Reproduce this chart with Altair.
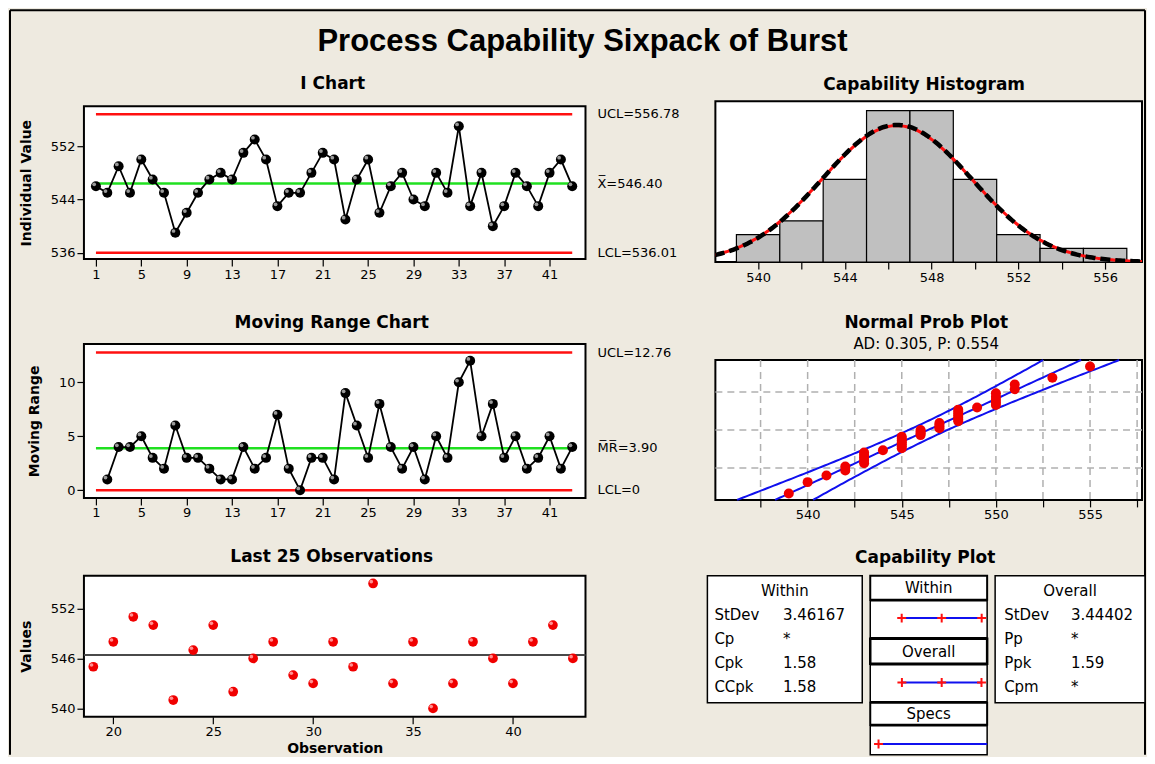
import math
from statistics import NormalDist
import altair as alt
import pandas as pd

# ---------------- data ----------------
observation = list(range(1, 44))
burst = [546, 545, 549, 545, 550, 547, 545, 539, 542, 545, 547, 548, 547, 551, 553,
         550, 543, 545, 545, 548, 551, 550, 541, 547, 550, 542, 546, 548, 544, 543,
         548, 545, 555, 543, 548, 540, 543, 548, 546, 543, 548, 550, 546]
mr_observation = list(range(2, 44))
moving_range = [1, 4, 4, 5, 3, 2, 6, 3, 3, 2, 1, 1, 4, 2, 3, 7, 2, 0, 3, 3, 1, 9, 6,
                3, 8, 4, 2, 4, 1, 5, 3, 10, 12, 5, 8, 3, 5, 2, 3, 5, 2, 4]
i_limits = [556.78, 546.40, 536.01]
i_labels = ["UCL=556.78", "X\u0305=546.40", "LCL=536.01"]
mr_limits = [12.76, 3.90, 0.0]
mr_labels = ["UCL=12.76", "M\u0305R\u0305=3.90", "LCL=0"]
hist_edges = [539, 541, 543, 545, 547, 549, 551, 553, 555, 557]
hist_counts = [2, 3, 6, 11, 11, 6, 2, 1, 1]
process_mean = 546.40
within_sd = 3.46167
overall_sd = 3.44402
lsl = 530
n_obs = 43
within_labels = ["StDev", "Cp", "Cpk", "CCpk"]
within_values = ["3.46167", "*", "1.58", "1.58"]
overall_labels = ["StDev", "Pp", "Ppk", "Cpm"]
overall_values = ["3.44402", "*", "1.59", "*"]
npp_grid_x = [537.5, 540, 542.5, 545, 547.5, 550, 552.5, 555, 557.5]
npp_grid_prob = [0.10, 0.50, 0.90]
ad_text = "AD: 0.305, P: 0.554"
main_title = "Process Capability Sixpack of Burst"

# ---------------- style ----------------
BG = "#EEEAE0"
FONT = "DejaVu Sans"
WL, WR = 502, 427
RED = "#ff1010"
GREEN = "#20e020"
BLUE = "#1010ee"
GRID = "#b0b0b0"
CROSS = "M-1,0L1,0M0,-1L0,1"
HIDDEN = alt.ViewBackground(fill="transparent", stroke="transparent")


def one():
    return alt.Data(values=[{}])


def txt(text, x, y, size=17, weight="bold", align="center", font=FONT, baseline="alphabetic"):
    return alt.Chart(one()).mark_text(
        text=text, font=font, fontSize=size, fontWeight=weight, align=align,
        baseline=baseline, color="black").encode(x=alt.value(x), y=alt.value(y))


def box(x0, x1, y0, y1, sw=1.5):
    return alt.Chart(one()).mark_rect(fill="white", stroke="black", strokeWidth=sw).encode(
        x=alt.value(x0), x2=alt.value(x1), y=alt.value(y0), y2=alt.value(y1))


def spacer(width, height):
    return alt.Chart(one()).mark_point(opacity=0).encode(
        x=alt.value(0), y=alt.value(0)).properties(width=width, height=height, view=HIDDEN)


def spheres(chart, x, y, color, shine, size):
    base = chart.mark_circle(size=size, color=color, opacity=1).encode(x=x, y=y)
    hl = chart.mark_circle(size=size * 0.14, color=shine, opacity=1,
                           xOffset=-1.8, yOffset=-1.8).encode(x=x, y=y)
    return base + hl


def limit_layers(df_lim, yenc, xa, xb):
    red = alt.Chart(df_lim.iloc[[0, 2]]).mark_rule(color=RED, strokeWidth=2.5).encode(
        x=alt.datum(xa), x2=alt.datum(xb), y=yenc)
    grn = alt.Chart(df_lim.iloc[[1]]).mark_rule(color=GREEN, strokeWidth=2.5).encode(
        x=alt.datum(xa), x2=alt.datum(xb), y=yenc)
    lab = alt.Chart(df_lim).mark_text(align="left", baseline="middle", font=FONT,
                                      fontSize=13, color="black").encode(
        x=alt.value(WL + 12), y=yenc, text="label:N")
    return red + grn + lab


# ---------------- top-left spacer with figure frame + main title ----------------
top_left = alt.layer(
    alt.Chart(one()).mark_rule(color="black", strokeWidth=2).encode(
        x=alt.value(-74), y=alt.value(-83), y2=alt.value(662)),
    alt.Chart(one()).mark_rule(color="black", strokeWidth=2).encode(
        x=alt.value(-74), x2=alt.value(1062), y=alt.value(-83)),
    alt.Chart(one()).mark_rule(color="black", strokeWidth=2).encode(
        x=alt.value(1062), y=alt.value(-83), y2=alt.value(662)),
    txt(main_title, 499, -42, size=31, font="Liberation Sans"),
).properties(width=WL, height=6, view=HIDDEN)

# ---------------- I chart (plot frame 5..158 inside a 161 tall cell) ----------------
df_i = pd.DataFrame({"obs": observation, "value": burst})
X_i = alt.X("obs:Q", scale=alt.Scale(domain=[-0.06, 44.17], nice=False, zero=False),
            axis=alt.Axis(values=list(range(1, 42, 4)), title=None, offset=-3))
Y_i = alt.Y("value:Q", scale=alt.Scale(domain=[535.05, 558.0], range=[158, 5], nice=False, zero=False),
            axis=alt.Axis(values=[536, 544, 552], title="Individual Value"))
df_il = pd.DataFrame({"value": i_limits, "label": i_labels})
base_i = alt.Chart(df_i)
ichart = alt.layer(
    box(0, WL, 5, 158, 2),
    limit_layers(df_il, Y_i, 1, 43),
    base_i.mark_line(color="black", strokeWidth=1.8).encode(x=X_i, y=Y_i),
    spheres(base_i, X_i, Y_i, "black", "#9a9a9a", 100),
    txt("I Chart", 249, -12.5),
).properties(width=WL, height=161, view=HIDDEN)

# ---------------- Moving range chart ----------------
df_m = pd.DataFrame({"obs": mr_observation, "value": moving_range})
X_m = alt.X("obs:Q", scale=alt.Scale(domain=[-0.06, 44.17], nice=False, zero=False),
            axis=alt.Axis(values=list(range(1, 42, 4)), title=None))
Y_m = alt.Y("value:Q", scale=alt.Scale(domain=[-0.713, 13.55], nice=False, zero=False),
            axis=alt.Axis(values=[0, 5, 10], title="Moving Range"))
df_ml = pd.DataFrame({"value": mr_limits, "label": mr_labels})
base_m = alt.Chart(df_m)
mrchart = alt.layer(
    limit_layers(df_ml, Y_m, 1, 43),
    base_m.mark_line(color="black", strokeWidth=1.8).encode(x=X_m, y=Y_m),
    spheres(base_m, X_m, Y_m, "black", "#9a9a9a", 100),
    txt("Moving Range Chart", 248, -16),
).properties(width=WL, height=154)

# ---------------- Last 25 observations ----------------
df_l = df_i[df_i["obs"] >= 19]
X_l = alt.X("obs:Q", scale=alt.Scale(domain=[18.53, 43.63], nice=False, zero=False),
            axis=alt.Axis(values=[20, 25, 30, 35, 40], title="Observation", titlePadding=3))
Y_l = alt.Y("value:Q", scale=alt.Scale(domain=[539.0, 555.92], nice=False, zero=False),
            axis=alt.Axis(values=[540, 546, 552], title="Values"))
base_l = alt.Chart(df_l)
l25 = alt.layer(
    alt.Chart(pd.DataFrame({"value": [process_mean]})).mark_rule(
        color="#4a4a4a", strokeWidth=2).encode(y=Y_l),
    spheres(base_l, X_l, Y_l, "#f00000", "#ff9090", 95),
    txt("Last 25 Observations", 248, -14),
).properties(width=WL, height=141)

# ---------------- Capability histogram ----------------
df_h = pd.DataFrame({"x": hist_edges[:-1], "x_end": hist_edges[1:], "y": hist_counts})
X_h = alt.X("x:Q", scale=alt.Scale(domain=[538.03, 557.70], nice=False, zero=False),
            axis=alt.Axis(values=list(range(540, 557, 2)),
                          labelExpr="datum.value % 4 == 0 ? datum.label : ''", title=None))
Y_h = alt.Y("y:Q", scale=alt.Scale(domain=[0, 11.68], nice=False, zero=False), axis=None)
curve_x = [538.0 + 0.1 * k for k in range(198)]


def normal_counts(sd):
    return [n_obs * 2 * math.exp(-0.5 * ((v - process_mean) / sd) ** 2) / (sd * math.sqrt(2 * math.pi))
            for v in curve_x]


df_cw = pd.DataFrame({"x": curve_x, "y": normal_counts(within_sd)})
df_co = pd.DataFrame({"x": curve_x, "y": normal_counts(overall_sd)})
hist = alt.layer(
    alt.Chart(df_h).mark_rect(fill="#c0c0c0", stroke="black", strokeWidth=1.2).encode(
        x=X_h, x2="x_end:Q", y=Y_h, y2=alt.datum(0)),
    alt.Chart(df_cw).mark_line(color=RED, strokeWidth=3, clip=True).encode(x=X_h, y=Y_h),
    alt.Chart(df_co).mark_line(color="black", strokeWidth=4.5, strokeDash=[10, 5], clip=True).encode(x=X_h, y=Y_h),
    txt("Capability Histogram", 209, -11.7),
).properties(width=WR, height=161)

# ---------------- Normal probability plot (frame 16..156 inside a 156 tall cell) ----------------
nd = NormalDist()
sorted_burst = sorted(burst)
z_pos = [nd.inv_cdf((i + 1 - 0.3) / (n_obs + 0.4)) for i in range(n_obs)]
df_np = pd.DataFrame({"x": sorted_burst, "y": z_pos})
Z_LIM = 2.36
band_z = [-Z_LIM + 0.04 * k for k in range(119)]
band_rows = []
for zz in band_z:
    c = process_mean + overall_sd * zz
    h = 1.96 * overall_sd * math.sqrt(1 / n_obs + zz * zz / (2 * (n_obs - 1)))
    band_rows += [{"x": c, "y": zz, "which": "fit"},
                  {"x": c - h, "y": zz, "which": "lo"},
                  {"x": c + h, "y": zz, "which": "hi"}]
df_band = pd.DataFrame(band_rows)
X_n = alt.X("x:Q", scale=alt.Scale(domain=[535.10, 557.76], nice=False, zero=False),
            axis=alt.Axis(values=npp_grid_x,
                          labelExpr="datum.value % 5 == 0 ? datum.label : ''", title=None))
Y_n = alt.Y("y:Q", scale=alt.Scale(domain=[-Z_LIM, Z_LIM], range=[156, 16], nice=False, zero=False),
            axis=None)
npp = alt.layer(
    box(0, WR, 16, 156, 2),
    alt.Chart(pd.DataFrame({"x": npp_grid_x})).mark_rule(
        color=GRID, strokeWidth=1.5, strokeDash=[7, 5]).encode(
        x=X_n, y=alt.value(16), y2=alt.value(156)),
    alt.Chart(pd.DataFrame({"y": [nd.inv_cdf(p) for p in npp_grid_prob]})).mark_rule(
        color=GRID, strokeWidth=1.5, strokeDash=[7, 5]).encode(y=Y_n),
    alt.Chart(df_band).mark_line(color=BLUE, strokeWidth=2).encode(
        x=X_n, y=Y_n, detail="which:N", order="y:Q"),
    alt.Chart(df_np).mark_circle(size=100, color="#f00000", opacity=1).encode(x=X_n, y=Y_n),
    txt("Normal Prob Plot", 211, -16),
    txt(ad_text, 211, 5.3, size=15, weight="normal"),
).properties(width=WR, height=156, view=HIDDEN)

# ---------------- Capability plot ----------------
cap_scale = alt.Scale(domain=[530, 558.2], range=[163.3, 272], nice=False, zero=False)
X_c = alt.X("x:Q", scale=cap_scale, axis=None)
row_scale = alt.Scale(domain=[0, 3], range=[39, 111.7], nice=False, zero=False)
Y_r = alt.Y("row:Q", scale=row_scale, axis=None)
within_pts = [process_mean - 3 * within_sd, process_mean, process_mean + 3 * within_sd]
overall_pts = [process_mean - 3 * overall_sd, process_mean, process_mean + 3 * overall_sd]
df_wt = pd.DataFrame({"row": [0, 1, 2, 3], "lab": within_labels, "val": within_values})
df_ot = pd.DataFrame({"row": [0, 1, 2, 3], "lab": overall_labels, "val": overall_values})


def spread(points, yv):
    d = pd.DataFrame({"x": points})
    rule = alt.Chart(pd.DataFrame({"x": [min(points)], "x2": [max(points)]})).mark_rule(
        color=BLUE, strokeWidth=2).encode(x=X_c, x2="x2:Q", y=alt.value(yv))
    marks = alt.Chart(d).mark_point(shape=CROSS, size=80, color=RED, filled=False,
                                    strokeWidth=2, opacity=1).encode(x=X_c, y=alt.value(yv))
    return rule + marks


def table_text(df, xl, xv):
    lab = alt.Chart(df).mark_text(align="left", baseline="middle", font=FONT, fontSize=15,
                                  color="black").encode(x=alt.value(xl), y=Y_r, text="lab:N")
    val = alt.Chart(df).mark_text(align="left", baseline="middle", font=FONT, fontSize=15,
                                  color="black").encode(x=alt.value(xv), y=Y_r, text="val:N")
    return lab + val


cap = alt.layer(
    box(-8, 147, 0, 127),
    box(280, 430, 0, 127),
    box(155, 272, 0, 24, 2),
    box(155, 272, 25, 62),
    box(155, 272, 63, 88, 2.5),
    box(155, 272, 89, 126),
    box(155, 272, 127, 149, 2),
    box(155, 272, 150, 179),
    txt("Within", 69.5, 15, size=15, weight="normal", baseline="middle"),
    txt("Overall", 355, 15, size=15, weight="normal", baseline="middle"),
    txt("Within", 213.5, 12, size=15, weight="normal", baseline="middle"),
    txt("Overall", 213.5, 76, size=15, weight="normal", baseline="middle"),
    txt("Specs", 213.5, 138.5, size=15, weight="normal", baseline="middle"),
    table_text(df_wt, -1, 67.7),
    table_text(df_ot, 289, 356),
    spread(within_pts, 42.3),
    spread(overall_pts, 106.7),
    alt.Chart(pd.DataFrame({"x": [lsl]})).mark_rule(color=BLUE, strokeWidth=2).encode(
        x=X_c, x2=alt.value(272), y=alt.value(168.3)),
    alt.Chart(pd.DataFrame({"x": [lsl]})).mark_point(
        shape=CROSS, size=80, color=RED, filled=False, strokeWidth=2, opacity=1).encode(
        x=X_c, y=alt.value(168.3)),
    txt("Capability Plot", 210, -13),
).properties(width=WR, height=179, view=HIDDEN)

# ---------------- layout: grid of rows (row tops shared) ----------------
ROW_GAP = 2
panels = [
    top_left, spacer(WR, 1),
    ichart, hist,
    spacer(WL, 78), spacer(WR, 78),
    mrchart, npp,
    spacer(WL, 72), spacer(WR, 72),
    l25, cap,
]

chart = alt.ConcatChart(
    concat=panels, columns=2, align="none", bounds="flush",
    spacing=alt.RowColnumber(row=ROW_GAP, column=130), padding=0
).configure(
    background=BG
).configure_view(
    fill="white", stroke="black", strokeWidth=2
).configure_axis(
    domain=False, grid=False, labelFont=FONT, labelFontSize=13, labelColor="black",
    tickColor="black", tickSize=7, tickWidth=1.2, labelPadding=2,
    titleFont=FONT, titleFontSize=14, titleFontWeight="bold", titleColor="black",
    titlePadding=17
)

chart.save("out.html", embed_options={"renderer": "svg", "actions": False})
